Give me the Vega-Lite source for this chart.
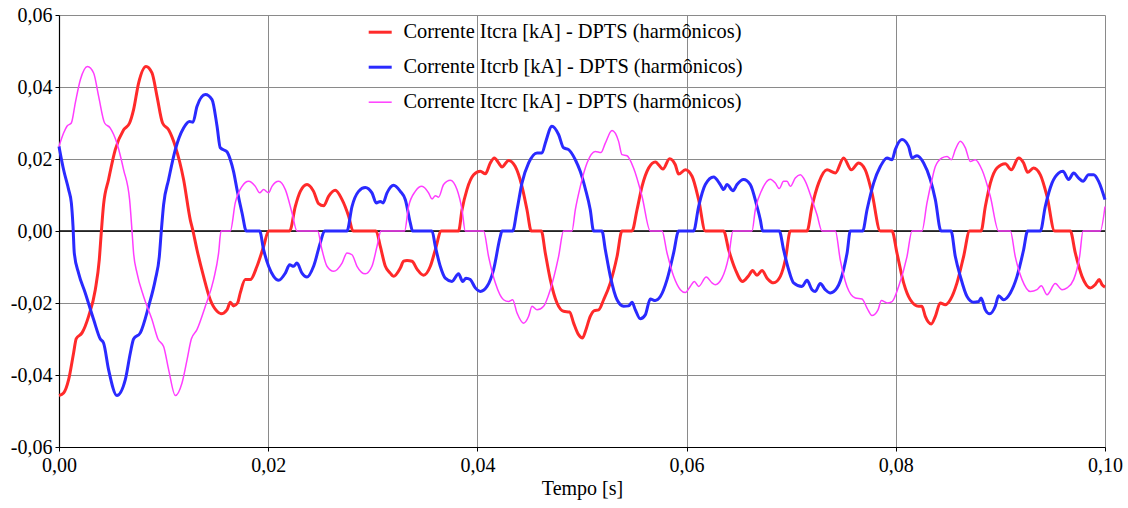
{
"$schema": "https://vega.github.io/schema/vega-lite/v6.json",
"width": 1046, "height": 432,
"autosize": {"type": "none"},
"padding": {"left": 59, "top": 15, "right": 23, "bottom": 61},
"background": "white",
"config": {
 "view": {"stroke": null},
 "font": "Times New Roman, Liberation Serif, serif",
 "style": {"guide-label": {"font": "Times New Roman, Liberation Serif, serif"}, "guide-title": {"font": "Times New Roman, Liberation Serif, serif"}},
 "axis": {"labelFont": "Times New Roman", "labelFontSize": 20, "labelColor": "#000", "titleFont": "Times New Roman", "titleFontSize": 20, "titleFontWeight": "normal", "titleColor": "#000", "domainColor": "#000", "domainWidth": 1.2, "tickColor": "#000", "tickSize": 4, "gridColor": "#8a8a8a", "gridWidth": 1},
 "legend": {"labelFont": "Times New Roman", "labelFontSize": 20, "labelColor": "#000", "padding": 0, "labelLimit": 0}
},
"layer": [
 {"data": {"values": [{"z": 0}]}, "mark": {"type": "rule", "color": "#000", "strokeWidth": 1.3}, "encoding": {"y": {"field": "z", "type": "quantitative"}}},
 {"data": {"values": [
{"s":"a","t":0,"v":-0.0457},{"s":"a","t":0.00044,"v":-0.045},{"s":"a","t":0.00092,"v":-0.0413},{"s":"a","t":0.0014,"v":-0.0338},{"s":"a","t":0.00165,"v":-0.0299},{"s":"a","t":0.0022,"v":-0.0283},{"s":"a","t":0.00283,"v":-0.0237},{"s":"a","t":0.00347,"v":-0.0163},{"s":"a","t":0.00385,"v":-0.008},{"s":"a","t":0.00404,"v":-0.0005},{"s":"a","t":0.00426,"v":0.0073},{"s":"a","t":0.00474,"v":0.0143},{"s":"a","t":0.00538,"v":0.0226},{"s":"a","t":0.00618,"v":0.0281},{"s":"a","t":0.00675,"v":0.03},{"s":"a","t":0.00713,"v":0.0337},{"s":"a","t":0.00761,"v":0.0411},{"s":"a","t":0.00832,"v":0.0457},{"s":"a","t":0.00889,"v":0.0439},{"s":"a","t":0.00937,"v":0.0374},{"s":"a","t":0.0099,"v":0.03},{"s":"a","t":0.01048,"v":0.0281},{"s":"a","t":0.01112,"v":0.0235},{"s":"a","t":0.01191,"v":0.0143},{"s":"a","t":0.01255,"v":0.0031},{"s":"a","t":0.01281,"v":0},{"s":"a","t":0.01319,"v":-0.0052},{"s":"a","t":0.01382,"v":-0.0126},{"s":"a","t":0.01446,"v":-0.0191},{"s":"a","t":0.01511,"v":-0.0223},{"s":"a","t":0.01549,"v":-0.023},{"s":"a","t":0.01606,"v":-0.0219},{"s":"a","t":0.01638,"v":-0.0198},{"s":"a","t":0.01669,"v":-0.0208},{"s":"a","t":0.01707,"v":-0.02},{"s":"a","t":0.01733,"v":-0.0172},{"s":"a","t":0.01781,"v":-0.0135},{"s":"a","t":0.01829,"v":-0.0135},{"s":"a","t":0.01893,"v":-0.0098},{"s":"a","t":0.01956,"v":-0.0043},{"s":"a","t":0.02004,"v":0},{"s":"a","t":0.02205,"v":0},{"s":"a","t":0.02259,"v":0.0068},{"s":"a","t":0.02307,"v":0.011},{"s":"a","t":0.02371,"v":0.0129},{"s":"a","t":0.02434,"v":0.011},{"s":"a","t":0.02482,"v":0.0076},{"s":"a","t":0.0253,"v":0.007},{"s":"a","t":0.02577,"v":0.0096},{"s":"a","t":0.02641,"v":0.0113},{"s":"a","t":0.02706,"v":0.0087},{"s":"a","t":0.02769,"v":0.0041},{"s":"a","t":0.02811,"v":0},{"s":"a","t":0.03031,"v":0},{"s":"a","t":0.03072,"v":-0.0043},{"s":"a","t":0.0312,"v":-0.0098},{"s":"a","t":0.03167,"v":-0.0117},{"s":"a","t":0.03199,"v":-0.0126},{"s":"a","t":0.03263,"v":-0.0103},{"s":"a","t":0.03295,"v":-0.0084},{"s":"a","t":0.03327,"v":-0.0082},{"s":"a","t":0.03375,"v":-0.0084},{"s":"a","t":0.03423,"v":-0.0106},{"s":"a","t":0.03486,"v":-0.0123},{"s":"a","t":0.0355,"v":-0.0098},{"s":"a","t":0.03598,"v":-0.0052},{"s":"a","t":0.03655,"v":0},{"s":"a","t":0.0382,"v":0},{"s":"a","t":0.03853,"v":0.0059},{"s":"a","t":0.039,"v":0.0115},{"s":"a","t":0.03964,"v":0.0156},{"s":"a","t":0.04028,"v":0.0166},{"s":"a","t":0.04076,"v":0.0159},{"s":"a","t":0.04123,"v":0.0189},{"s":"a","t":0.04162,"v":0.0203},{"s":"a","t":0.04203,"v":0.0189},{"s":"a","t":0.04235,"v":0.0178},{"s":"a","t":0.04298,"v":0.0196},{"s":"a","t":0.04362,"v":0.0179},{"s":"a","t":0.04426,"v":0.0124},{"s":"a","t":0.04474,"v":0.0059},{"s":"a","t":0.04515,"v":0},{"s":"a","t":0.04611,"v":0},{"s":"a","t":0.04649,"v":-0.0061},{"s":"a","t":0.04697,"v":-0.0135},{"s":"a","t":0.04761,"v":-0.02},{"s":"a","t":0.04824,"v":-0.0223},{"s":"a","t":0.04881,"v":-0.0225},{"s":"a","t":0.0492,"v":-0.0256},{"s":"a","t":0.04967,"v":-0.0288},{"s":"a","t":0.05006,"v":-0.0297},{"s":"a","t":0.05032,"v":-0.0279},{"s":"a","t":0.05079,"v":-0.0237},{"s":"a","t":0.05118,"v":-0.0221},{"s":"a","t":0.05159,"v":-0.0219},{"s":"a","t":0.05207,"v":-0.0191},{"s":"a","t":0.05271,"v":-0.0144},{"s":"a","t":0.05335,"v":-0.0071},{"s":"a","t":0.05382,"v":0},{"s":"a","t":0.05478,"v":0},{"s":"a","t":0.05526,"v":0.0059},{"s":"a","t":0.05574,"v":0.0124},{"s":"a","t":0.05637,"v":0.0175},{"s":"a","t":0.05701,"v":0.0192},{"s":"a","t":0.05774,"v":0.0172},{"s":"a","t":0.05837,"v":0.0201},{"s":"a","t":0.05892,"v":0.0184},{"s":"a","t":0.05924,"v":0.0158},{"s":"a","t":0.05988,"v":0.017},{"s":"a","t":0.06052,"v":0.0152},{"s":"a","t":0.06115,"v":0.0087},{"s":"a","t":0.06179,"v":0},{"s":"a","t":0.06354,"v":0},{"s":"a","t":0.06402,"v":-0.0052},{"s":"a","t":0.06466,"v":-0.0107},{"s":"a","t":0.06535,"v":-0.014},{"s":"a","t":0.06593,"v":-0.0124},{"s":"a","t":0.06631,"v":-0.011},{"s":"a","t":0.06673,"v":-0.0123},{"s":"a","t":0.06721,"v":-0.011},{"s":"a","t":0.06769,"v":-0.0131},{"s":"a","t":0.06832,"v":-0.0144},{"s":"a","t":0.06896,"v":-0.0126},{"s":"a","t":0.06944,"v":-0.008},{"s":"a","t":0.06992,"v":0},{"s":"a","t":0.07151,"v":0},{"s":"a","t":0.07199,"v":0.0068},{"s":"a","t":0.07262,"v":0.0133},{"s":"a","t":0.07342,"v":0.017},{"s":"a","t":0.07422,"v":0.0161},{"s":"a","t":0.07501,"v":0.0203},{"s":"a","t":0.07575,"v":0.017},{"s":"a","t":0.07644,"v":0.0189},{"s":"a","t":0.07708,"v":0.017},{"s":"a","t":0.07772,"v":0.0106},{"s":"a","t":0.07852,"v":0},{"s":"a","t":0.07964,"v":0},{"s":"a","t":0.08011,"v":-0.0061},{"s":"a","t":0.08075,"v":-0.0144},{"s":"a","t":0.08139,"v":-0.0191},{"s":"a","t":0.08218,"v":-0.0209},{"s":"a","t":0.0825,"v":-0.0209},{"s":"a","t":0.08282,"v":-0.0237},{"s":"a","t":0.08339,"v":-0.0258},{"s":"a","t":0.08378,"v":-0.0237},{"s":"a","t":0.08425,"v":-0.02},{"s":"a","t":0.08473,"v":-0.0205},{"s":"a","t":0.08521,"v":-0.0191},{"s":"a","t":0.08585,"v":-0.0144},{"s":"a","t":0.08648,"v":-0.0071},{"s":"a","t":0.08706,"v":0},{"s":"a","t":0.08815,"v":0},{"s":"a","t":0.08856,"v":0.0068},{"s":"a","t":0.08904,"v":0.0133},{"s":"a","t":0.08967,"v":0.0175},{"s":"a","t":0.09047,"v":0.0187},{"s":"a","t":0.09104,"v":0.017},{"s":"a","t":0.09174,"v":0.0203},{"s":"a","t":0.09222,"v":0.0189},{"s":"a","t":0.0926,"v":0.0163},{"s":"a","t":0.09317,"v":0.0175},{"s":"a","t":0.09382,"v":0.0156},{"s":"a","t":0.09446,"v":0.0096},{"s":"a","t":0.09518,"v":0},{"s":"a","t":0.09668,"v":0},{"s":"a","t":0.09716,"v":-0.0061},{"s":"a","t":0.0978,"v":-0.0126},{"s":"a","t":0.0986,"v":-0.0158},{"s":"a","t":0.09907,"v":-0.0149},{"s":"a","t":0.09946,"v":-0.0135},{"s":"a","t":0.09971,"v":-0.0149},{"s":"a","t":0.1,"v":-0.0156},
{"s":"b","t":0,"v":0.0235},{"s":"b","t":0.00044,"v":0.017},{"s":"b","t":0.00092,"v":0.0115},{"s":"b","t":0.00118,"v":0.0078},{"s":"b","t":0.00134,"v":0.0013},{"s":"b","t":0.00146,"v":-0.0061},{"s":"b","t":0.00187,"v":-0.0117},{"s":"b","t":0.00251,"v":-0.0172},{"s":"b","t":0.00331,"v":-0.0246},{"s":"b","t":0.00395,"v":-0.03},{"s":"b","t":0.00426,"v":-0.0311},{"s":"b","t":0.00474,"v":-0.0385},{"s":"b","t":0.00554,"v":-0.0457},{"s":"b","t":0.00634,"v":-0.0413},{"s":"b","t":0.00682,"v":-0.0339},{"s":"b","t":0.00713,"v":-0.03},{"s":"b","t":0.00777,"v":-0.0283},{"s":"b","t":0.00857,"v":-0.0209},{"s":"b","t":0.00921,"v":-0.0135},{"s":"b","t":0.00959,"v":-0.0071},{"s":"b","t":0.00978,"v":0},{"s":"b","t":0.01,"v":0.0073},{"s":"b","t":0.01048,"v":0.0143},{"s":"b","t":0.01112,"v":0.0226},{"s":"b","t":0.01191,"v":0.0286},{"s":"b","t":0.01249,"v":0.0304},{"s":"b","t":0.01281,"v":0.0302},{"s":"b","t":0.01319,"v":0.0346},{"s":"b","t":0.01399,"v":0.0379},{"s":"b","t":0.01463,"v":0.0365},{"s":"b","t":0.01511,"v":0.0291},{"s":"b","t":0.01542,"v":0.0231},{"s":"b","t":0.01606,"v":0.022},{"s":"b","t":0.01638,"v":0.0198},{"s":"b","t":0.01669,"v":0.0165},{"s":"b","t":0.01702,"v":0.0115},{"s":"b","t":0.0175,"v":0.005},{"s":"b","t":0.01791,"v":0},{"s":"b","t":0.01918,"v":0},{"s":"b","t":0.01956,"v":-0.0052},{"s":"b","t":0.02004,"v":-0.0098},{"s":"b","t":0.02052,"v":-0.0126},{"s":"b","t":0.021,"v":-0.0137},{"s":"b","t":0.02164,"v":-0.0117},{"s":"b","t":0.02205,"v":-0.0094},{"s":"b","t":0.02243,"v":-0.0098},{"s":"b","t":0.02275,"v":-0.0089},{"s":"b","t":0.02323,"v":-0.0117},{"s":"b","t":0.02371,"v":-0.0128},{"s":"b","t":0.02434,"v":-0.0098},{"s":"b","t":0.02498,"v":-0.0033},{"s":"b","t":0.02539,"v":0},{"s":"b","t":0.02753,"v":0},{"s":"b","t":0.02801,"v":0.0068},{"s":"b","t":0.02864,"v":0.011},{"s":"b","t":0.02928,"v":0.0121},{"s":"b","t":0.02992,"v":0.0106},{"s":"b","t":0.03033,"v":0.0078},{"s":"b","t":0.03072,"v":0.0082},{"s":"b","t":0.03098,"v":0.0078},{"s":"b","t":0.03136,"v":0.0106},{"s":"b","t":0.03199,"v":0.0127},{"s":"b","t":0.03263,"v":0.011},{"s":"b","t":0.03311,"v":0.0087},{"s":"b","t":0.03359,"v":0.0022},{"s":"b","t":0.0338,"v":0},{"s":"b","t":0.03566,"v":0},{"s":"b","t":0.03598,"v":-0.0043},{"s":"b","t":0.03645,"v":-0.0098},{"s":"b","t":0.03693,"v":-0.0131},{"s":"b","t":0.03757,"v":-0.014},{"s":"b","t":0.0382,"v":-0.0119},{"s":"b","t":0.03859,"v":-0.014},{"s":"b","t":0.03891,"v":-0.0131},{"s":"b","t":0.03932,"v":-0.0135},{"s":"b","t":0.0398,"v":-0.0158},{"s":"b","t":0.04028,"v":-0.0168},{"s":"b","t":0.04092,"v":-0.0154},{"s":"b","t":0.04155,"v":-0.0107},{"s":"b","t":0.04219,"v":-0.0015},{"s":"b","t":0.04235,"v":0},{"s":"b","t":0.04337,"v":0},{"s":"b","t":0.04379,"v":0.0059},{"s":"b","t":0.04426,"v":0.0133},{"s":"b","t":0.0449,"v":0.0189},{"s":"b","t":0.0457,"v":0.0217},{"s":"b","t":0.04618,"v":0.0217},{"s":"b","t":0.04649,"v":0.0244},{"s":"b","t":0.04713,"v":0.0291},{"s":"b","t":0.04776,"v":0.0268},{"s":"b","t":0.04824,"v":0.0231},{"s":"b","t":0.04872,"v":0.0226},{"s":"b","t":0.04936,"v":0.0198},{"s":"b","t":0.04984,"v":0.0165},{"s":"b","t":0.05032,"v":0.0117},{"s":"b","t":0.05079,"v":0.0059},{"s":"b","t":0.05111,"v":0},{"s":"b","t":0.05191,"v":0},{"s":"b","t":0.05223,"v":-0.0052},{"s":"b","t":0.05271,"v":-0.0126},{"s":"b","t":0.05335,"v":-0.0191},{"s":"b","t":0.05398,"v":-0.0209},{"s":"b","t":0.05446,"v":-0.0208},{"s":"b","t":0.05478,"v":-0.0198},{"s":"b","t":0.0551,"v":-0.0219},{"s":"b","t":0.05557,"v":-0.0244},{"s":"b","t":0.05605,"v":-0.0233},{"s":"b","t":0.05653,"v":-0.0189},{"s":"b","t":0.05701,"v":-0.0193},{"s":"b","t":0.05749,"v":-0.0182},{"s":"b","t":0.05813,"v":-0.0135},{"s":"b","t":0.05876,"v":-0.0061},{"s":"b","t":0.05924,"v":0},{"s":"b","t":0.06067,"v":0},{"s":"b","t":0.06115,"v":0.0068},{"s":"b","t":0.06179,"v":0.0129},{"s":"b","t":0.06258,"v":0.015},{"s":"b","t":0.06322,"v":0.0129},{"s":"b","t":0.06354,"v":0.0115},{"s":"b","t":0.06386,"v":0.0129},{"s":"b","t":0.06444,"v":0.0112},{"s":"b","t":0.06482,"v":0.0129},{"s":"b","t":0.06545,"v":0.0143},{"s":"b","t":0.06609,"v":0.0129},{"s":"b","t":0.06673,"v":0.0068},{"s":"b","t":0.06705,"v":0.0031},{"s":"b","t":0.06727,"v":0},{"s":"b","t":0.06886,"v":0},{"s":"b","t":0.06927,"v":-0.0052},{"s":"b","t":0.06975,"v":-0.0107},{"s":"b","t":0.07023,"v":-0.0144},{"s":"b","t":0.07103,"v":-0.0154},{"s":"b","t":0.07151,"v":-0.0137},{"s":"b","t":0.07199,"v":-0.0163},{"s":"b","t":0.0723,"v":-0.0168},{"s":"b","t":0.07278,"v":-0.0146},{"s":"b","t":0.07326,"v":-0.0163},{"s":"b","t":0.07374,"v":-0.0172},{"s":"b","t":0.07438,"v":-0.0158},{"s":"b","t":0.07501,"v":-0.0107},{"s":"b","t":0.07536,"v":-0.0058},{"s":"b","t":0.07565,"v":0},{"s":"b","t":0.07683,"v":0},{"s":"b","t":0.07725,"v":0.0059},{"s":"b","t":0.07788,"v":0.0133},{"s":"b","t":0.07852,"v":0.0179},{"s":"b","t":0.07916,"v":0.0203},{"s":"b","t":0.07964,"v":0.0198},{"s":"b","t":0.07995,"v":0.0226},{"s":"b","t":0.08059,"v":0.0254},{"s":"b","t":0.08122,"v":0.0235},{"s":"b","t":0.08155,"v":0.0203},{"s":"b","t":0.08203,"v":0.0209},{"s":"b","t":0.08266,"v":0.0189},{"s":"b","t":0.0833,"v":0.0143},{"s":"b","t":0.08378,"v":0.0087},{"s":"b","t":0.08432,"v":0},{"s":"b","t":0.08528,"v":0},{"s":"b","t":0.08569,"v":-0.0071},{"s":"b","t":0.08617,"v":-0.0126},{"s":"b","t":0.08681,"v":-0.0182},{"s":"b","t":0.08744,"v":-0.0198},{"s":"b","t":0.08792,"v":-0.0196},{"s":"b","t":0.08815,"v":-0.0186},{"s":"b","t":0.08856,"v":-0.0219},{"s":"b","t":0.08897,"v":-0.023},{"s":"b","t":0.08951,"v":-0.0209},{"s":"b","t":0.08983,"v":-0.018},{"s":"b","t":0.09031,"v":-0.0191},{"s":"b","t":0.09095,"v":-0.0172},{"s":"b","t":0.09159,"v":-0.0126},{"s":"b","t":0.09222,"v":-0.0052},{"s":"b","t":0.0926,"v":0},{"s":"b","t":0.09382,"v":0},{"s":"b","t":0.09429,"v":0.0068},{"s":"b","t":0.09493,"v":0.0133},{"s":"b","t":0.09556,"v":0.0161},{"s":"b","t":0.09598,"v":0.0166},{"s":"b","t":0.09652,"v":0.0143},{"s":"b","t":0.097,"v":0.0161},{"s":"b","t":0.09748,"v":0.0147},{"s":"b","t":0.0979,"v":0.0138},{"s":"b","t":0.09843,"v":0.0156},{"s":"b","t":0.09891,"v":0.0156},{"s":"b","t":0.09939,"v":0.0138},{"s":"b","t":0.1,"v":0.0087},
{"s":"c","t":0,"v":0.0235},{"s":"c","t":0.00044,"v":0.0272},{"s":"c","t":0.00076,"v":0.0291},{"s":"c","t":0.00118,"v":0.03},{"s":"c","t":0.00156,"v":0.0356},{"s":"c","t":0.00204,"v":0.042},{"s":"c","t":0.00273,"v":0.0457},{"s":"c","t":0.00331,"v":0.0439},{"s":"c","t":0.00379,"v":0.0374},{"s":"c","t":0.00436,"v":0.03},{"s":"c","t":0.0049,"v":0.0286},{"s":"c","t":0.00554,"v":0.0244},{"s":"c","t":0.00618,"v":0.017},{"s":"c","t":0.00675,"v":0.0087},{"s":"c","t":0.00698,"v":0},{"s":"c","t":0.00713,"v":-0.0061},{"s":"c","t":0.00746,"v":-0.0117},{"s":"c","t":0.00809,"v":-0.0182},{"s":"c","t":0.00889,"v":-0.0246},{"s":"c","t":0.00946,"v":-0.03},{"s":"c","t":0.01,"v":-0.0321},{"s":"c","t":0.01048,"v":-0.0385},{"s":"c","t":0.01112,"v":-0.0457},{"s":"c","t":0.01176,"v":-0.0422},{"s":"c","t":0.01224,"v":-0.0358},{"s":"c","t":0.01265,"v":-0.03},{"s":"c","t":0.01319,"v":-0.0274},{"s":"c","t":0.01399,"v":-0.0209},{"s":"c","t":0.01478,"v":-0.0135},{"s":"c","t":0.01526,"v":-0.0061},{"s":"c","t":0.01549,"v":0},{"s":"c","t":0.01638,"v":0},{"s":"c","t":0.01685,"v":0.0078},{"s":"c","t":0.0175,"v":0.0124},{"s":"c","t":0.01813,"v":0.0138},{"s":"c","t":0.01877,"v":0.0124},{"s":"c","t":0.01918,"v":0.0106},{"s":"c","t":0.01956,"v":0.0115},{"s":"c","t":0.02004,"v":0.0106},{"s":"c","t":0.02036,"v":0.0124},{"s":"c","t":0.021,"v":0.0138},{"s":"c","t":0.02164,"v":0.0115},{"s":"c","t":0.02228,"v":0.005},{"s":"c","t":0.02275,"v":0},{"s":"c","t":0.02472,"v":0},{"s":"c","t":0.02514,"v":-0.0052},{"s":"c","t":0.02562,"v":-0.0098},{"s":"c","t":0.02625,"v":-0.0112},{"s":"c","t":0.02706,"v":-0.0089},{"s":"c","t":0.02753,"v":-0.0061},{"s":"c","t":0.02801,"v":-0.0066},{"s":"c","t":0.02849,"v":-0.0098},{"s":"c","t":0.02928,"v":-0.0119},{"s":"c","t":0.02992,"v":-0.0098},{"s":"c","t":0.0304,"v":-0.0043},{"s":"c","t":0.03078,"v":0},{"s":"c","t":0.03304,"v":0},{"s":"c","t":0.03342,"v":0.0068},{"s":"c","t":0.03406,"v":0.011},{"s":"c","t":0.0347,"v":0.0124},{"s":"c","t":0.03533,"v":0.0106},{"s":"c","t":0.03566,"v":0.0089},{"s":"c","t":0.03598,"v":0.0098},{"s":"c","t":0.03629,"v":0.0094},{"s":"c","t":0.03677,"v":0.0129},{"s":"c","t":0.03741,"v":0.0141},{"s":"c","t":0.03805,"v":0.0115},{"s":"c","t":0.03853,"v":0.0059},{"s":"c","t":0.03884,"v":0},{"s":"c","t":0.04059,"v":0},{"s":"c","t":0.04107,"v":-0.0071},{"s":"c","t":0.04171,"v":-0.0144},{"s":"c","t":0.0425,"v":-0.0191},{"s":"c","t":0.04298,"v":-0.0196},{"s":"c","t":0.04337,"v":-0.0191},{"s":"c","t":0.04379,"v":-0.0228},{"s":"c","t":0.04442,"v":-0.0256},{"s":"c","t":0.0449,"v":-0.0237},{"s":"c","t":0.04522,"v":-0.0209},{"s":"c","t":0.0457,"v":-0.0219},{"s":"c","t":0.04633,"v":-0.0209},{"s":"c","t":0.04697,"v":-0.0163},{"s":"c","t":0.04776,"v":-0.0071},{"s":"c","t":0.04824,"v":0},{"s":"c","t":0.04904,"v":0},{"s":"c","t":0.04936,"v":0.0059},{"s":"c","t":0.04984,"v":0.0124},{"s":"c","t":0.05048,"v":0.0189},{"s":"c","t":0.05127,"v":0.0221},{"s":"c","t":0.05182,"v":0.0218},{"s":"c","t":0.05223,"v":0.0244},{"s":"c","t":0.05287,"v":0.0279},{"s":"c","t":0.0535,"v":0.0249},{"s":"c","t":0.05382,"v":0.0212},{"s":"c","t":0.0543,"v":0.0209},{"s":"c","t":0.05493,"v":0.0175},{"s":"c","t":0.05574,"v":0.0096},{"s":"c","t":0.05653,"v":0},{"s":"c","t":0.05765,"v":0},{"s":"c","t":0.05813,"v":-0.0061},{"s":"c","t":0.05876,"v":-0.0126},{"s":"c","t":0.0594,"v":-0.0163},{"s":"c","t":0.05988,"v":-0.0171},{"s":"c","t":0.06035,"v":-0.0154},{"s":"c","t":0.06074,"v":-0.014},{"s":"c","t":0.06115,"v":-0.0154},{"s":"c","t":0.06188,"v":-0.0128},{"s":"c","t":0.06243,"v":-0.0144},{"s":"c","t":0.06274,"v":-0.0149},{"s":"c","t":0.06338,"v":-0.0131},{"s":"c","t":0.06402,"v":-0.0071},{"s":"c","t":0.06444,"v":0},{"s":"c","t":0.06625,"v":0},{"s":"c","t":0.06657,"v":0.0059},{"s":"c","t":0.06721,"v":0.0115},{"s":"c","t":0.068,"v":0.0144},{"s":"c","t":0.06848,"v":0.0133},{"s":"c","t":0.06886,"v":0.0118},{"s":"c","t":0.06927,"v":0.0138},{"s":"c","t":0.0696,"v":0.0138},{"s":"c","t":0.06992,"v":0.0124},{"s":"c","t":0.07039,"v":0.0147},{"s":"c","t":0.07087,"v":0.0156},{"s":"c","t":0.07135,"v":0.0138},{"s":"c","t":0.07199,"v":0.0087},{"s":"c","t":0.07247,"v":0.0045},{"s":"c","t":0.07294,"v":0},{"s":"c","t":0.07422,"v":0},{"s":"c","t":0.07469,"v":-0.008},{"s":"c","t":0.07533,"v":-0.0154},{"s":"c","t":0.07613,"v":-0.0186},{"s":"c","t":0.07677,"v":-0.0189},{"s":"c","t":0.07725,"v":-0.0214},{"s":"c","t":0.07772,"v":-0.0235},{"s":"c","t":0.0783,"v":-0.0219},{"s":"c","t":0.07862,"v":-0.0193},{"s":"c","t":0.07916,"v":-0.02},{"s":"c","t":0.07964,"v":-0.0196},{"s":"c","t":0.08027,"v":-0.0154},{"s":"c","t":0.08107,"v":-0.0071},{"s":"c","t":0.08155,"v":0},{"s":"c","t":0.0825,"v":0},{"s":"c","t":0.08298,"v":0.0078},{"s":"c","t":0.08346,"v":0.0143},{"s":"c","t":0.08378,"v":0.0179},{"s":"c","t":0.08442,"v":0.0203},{"s":"c","t":0.0849,"v":0.0207},{"s":"c","t":0.08531,"v":0.0198},{"s":"c","t":0.08569,"v":0.0226},{"s":"c","t":0.08617,"v":0.0249},{"s":"c","t":0.08665,"v":0.0231},{"s":"c","t":0.08712,"v":0.0193},{"s":"c","t":0.0876,"v":0.0198},{"s":"c","t":0.08824,"v":0.017},{"s":"c","t":0.08904,"v":0.0096},{"s":"c","t":0.08983,"v":0},{"s":"c","t":0.09095,"v":0},{"s":"c","t":0.09142,"v":-0.0071},{"s":"c","t":0.09207,"v":-0.0135},{"s":"c","t":0.09286,"v":-0.0168},{"s":"c","t":0.0935,"v":-0.0163},{"s":"c","t":0.09391,"v":-0.0152},{"s":"c","t":0.09446,"v":-0.0177},{"s":"c","t":0.09525,"v":-0.0146},{"s":"c","t":0.09589,"v":-0.0163},{"s":"c","t":0.09637,"v":-0.0158},{"s":"c","t":0.097,"v":-0.0135},{"s":"c","t":0.09757,"v":-0.0071},{"s":"c","t":0.0979,"v":0},{"s":"c","t":0.09955,"v":0},{"s":"c","t":0.1,"v":0.0068}
 ]},
 "mark": {"type": "line", "interpolate": "monotone"},
 "encoding": {
  "x": {"field": "t", "type": "quantitative", "scale": {"domain": [0, 0.1], "nice": false, "zero": false}, "axis": {"values": [0, 0.02, 0.04, 0.06, 0.08, 0.1], "title": "Tempo [s]", "labelFont": "Times New Roman", "titleFont": "Times New Roman", "labelFontSize": 20, "titleFontSize": 20, "labelPadding": 4, "titlePadding": 3, "labelExpr": "replace(format(datum.value, '.2f'), '.', ',')", "labelFlush": false}},
  "y": {"field": "v", "type": "quantitative", "scale": {"domain": [-0.06, 0.06], "nice": false}, "axis": {"values": [-0.06, -0.04, -0.02, 0, 0.02, 0.04, 0.06], "title": null, "labelFont": "Times New Roman", "labelFontSize": 20, "labelPadding": 3, "labelExpr": "replace(replace(format(datum.value, '.2f'), '.', ','), '\u2212', '-')"}},
  "color": {"field": "s", "type": "nominal", "scale": {"domain": ["a", "b", "c"], "range": ["#ff2a2a", "#2a2aff", "#ff3dff"]}, "legend": {"orient": "none", "legendX": 311, "legendY": 7, "direction": "vertical", "title": null, "symbolType": "stroke", "symbolSize": 529, "symbolStrokeWidth": 3, "labelOffset": 13, "rowPadding": 14, "labelFont": "Times New Roman", "labelFontSize": 20.4, "labelLimit": 0, "labelExpr": "datum.value == 'a' ? 'Corrente Itcra [kA] - DPTS (harmônicos)' : datum.value == 'b' ? 'Corrente Itcrb [kA] - DPTS (harmônicos)' : 'Corrente Itcrc [kA] - DPTS (harmônicos)'", "encode": {"symbols": {"update": {"strokeWidth": {"signal": "datum.value == 'c' ? 1.5 : 3"}}}}}},
  "strokeWidth": {"condition": {"test": "datum.s == 'c'", "value": 1.5}, "value": 3}
 }}
]
}
